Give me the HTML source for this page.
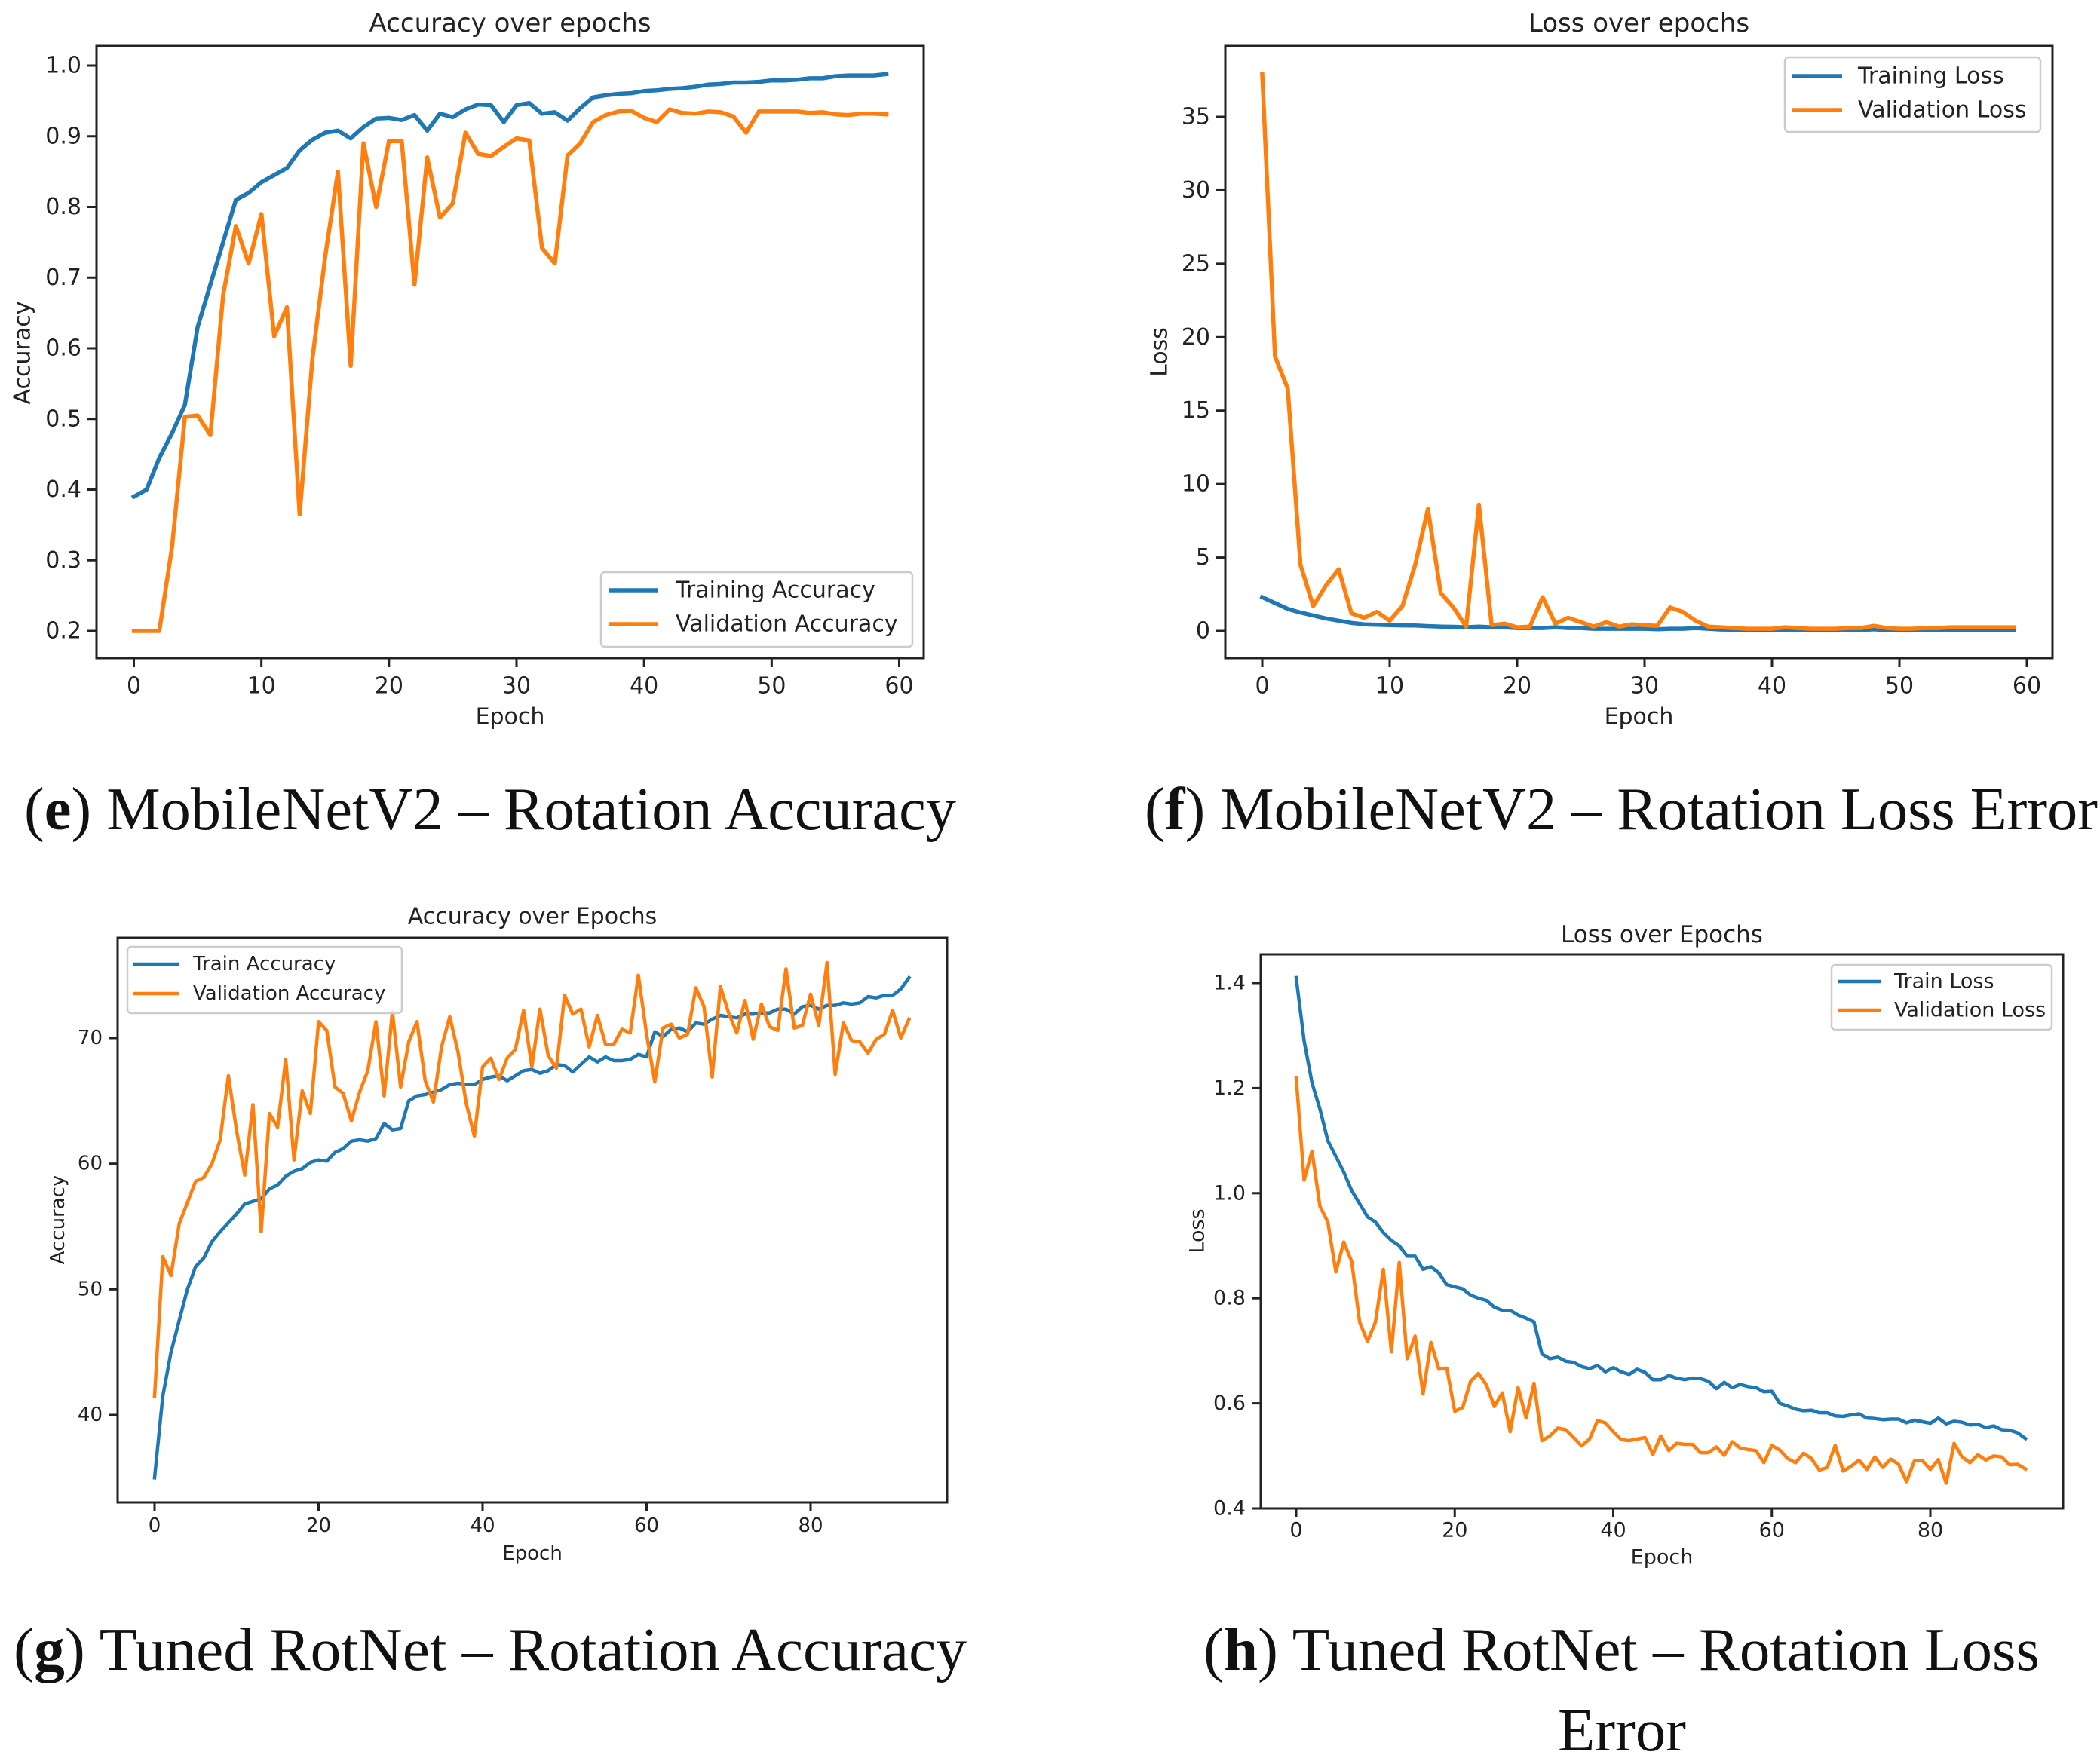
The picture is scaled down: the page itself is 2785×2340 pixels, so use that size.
<!DOCTYPE html>
<html><head><meta charset="utf-8"><style>
html,body{margin:0;padding:0;background:#fff;}
svg{display:block;}
text{font-family:"DejaVu Sans","Liberation Sans",sans-serif;fill:#222;}
.cap{font-family:"Liberation Serif",serif;fill:#111;}
</style></head><body>
<svg id="fig" width="2785" height="2340" viewBox="0 0 2785 2340" xmlns="http://www.w3.org/2000/svg">
<text class="cap" x="32" y="1100" font-size="80" textLength="1236" lengthAdjust="spacingAndGlyphs">(<tspan font-weight="bold">e</tspan>) MobileNetV2 – Rotation Accuracy</text>
<text class="cap" x="1518" y="1100" font-size="80" textLength="1264" lengthAdjust="spacingAndGlyphs">(<tspan font-weight="bold">f</tspan>) MobileNetV2 – Rotation Loss Error</text>
<text class="cap" x="18" y="2215" font-size="80" textLength="1264" lengthAdjust="spacingAndGlyphs">(<tspan font-weight="bold">g</tspan>) Tuned RotNet – Rotation Accuracy</text>
<text class="cap" x="1596" y="2215" font-size="80" textLength="1109" lengthAdjust="spacingAndGlyphs">(<tspan font-weight="bold">h</tspan>) Tuned RotNet – Rotation Loss</text>
<text class="cap" x="2066" y="2322" font-size="80" textLength="170" lengthAdjust="spacingAndGlyphs">Error</text>
</svg>
<script>
// ---- Panel e: MobileNetV2 accuracy ----
const eTrain=[.39,.40,.445,.48,.52,.63,.69,.75,.81,.82,.835,.845,.855,.88,.895,.905,.908,.897,.913,.925,.926,.923,.93,.908,.932,.927,.938,.945,.944,.92,.944,.947,.932,.934,.922,.94,.955,.958,.96,.961,.964,.965,.967,.968,.97,.973,.974,.976,.976,.977,.979,.979,.98,.982,.982,.985,.986,.986,.986,.988];
const eVal=[.2,.2,.2,.32,.503,.505,.477,.675,.773,.72,.79,.617,.658,.365,.585,.73,.85,.575,.89,.8,.893,.893,.69,.87,.785,.805,.905,.875,.872,.885,.897,.894,.742,.72,.873,.89,.92,.93,.935,.936,.926,.92,.938,.933,.932,.935,.934,.928,.905,.935,.935,.935,.935,.933,.934,.931,.93,.932,.932,.931];
const eXTicks=[0,10,20,30,40,50,60];
const eYTicks=[0.2,0.3,0.4,0.5,0.6,0.7,0.8,0.9,1.0];
const eYLabels=["0.2","0.3","0.4","0.5","0.6","0.7","0.8","0.9","1.0"];
// ---- Panel f: MobileNetV2 loss ----
const fTrain=[2.3,1.9,1.5,1.25,1.05,0.85,0.7,0.55,0.45,0.42,0.4,0.38,0.37,0.33,0.3,0.28,0.25,0.3,0.25,0.25,0.2,0.2,0.2,0.25,0.2,0.2,0.15,0.15,0.15,0.15,0.15,0.12,0.15,0.15,0.2,0.15,0.1,0.08,0.08,0.08,0.08,0.08,0.08,0.08,0.06,0.05,0.05,0.05,0.12,0.05,0.05,0.05,0.05,0.05,0.05,0.05,0.05,0.05,0.05,0.05];
const fVal=[37.9,18.7,16.5,4.5,1.7,3.1,4.2,1.2,0.9,1.3,0.7,1.7,4.5,8.3,2.6,1.6,0.3,8.6,0.4,0.5,0.25,0.3,2.3,0.5,0.9,0.6,0.3,0.6,0.3,0.45,0.4,0.35,1.6,1.3,0.7,0.3,0.25,0.2,0.15,0.15,0.15,0.25,0.2,0.15,0.15,0.15,0.2,0.2,0.35,0.2,0.15,0.15,0.2,0.2,0.25,0.25,0.25,0.25,0.25,0.25];
const fXTicks=[0,10,20,30,40,50,60];
const fYTicks=[0,5,10,15,20,25,30,35];
const fYLabels=["0","5","10","15","20","25","30","35"];
// ---- Panel g: RotNet accuracy ----
const gTrain=[35,41.5,45,47.5,50,51.8,52.5,53.8,54.6,55.3,56,56.8,57,57.2,58,58.3,59,59.4,59.6,60.1,60.3,60.2,60.9,61.2,61.8,61.9,61.8,62,63.2,62.7,62.8,65,65.4,65.5,65.7,65.9,66.3,66.4,66.3,66.3,66.7,66.9,67,66.6,67,67.4,67.5,67.2,67.4,67.9,67.8,67.3,67.9,68.5,68.1,68.5,68.2,68.2,68.3,68.7,68.5,70.5,70.1,70.7,70.8,70.5,71.2,71.1,71.5,71.8,71.7,71.6,71.9,71.9,72,72,72.3,72.3,71.9,72.5,72.6,72.3,72.6,72.6,72.8,72.7,72.8,73.3,73.2,73.4,73.4,73.9,74.8];
const gVal=[41.5,52.6,51.1,55.2,56.9,58.6,58.9,60,61.9,67,62.6,59.1,64.7,54.6,64,62.9,68.3,60.3,65.8,64,71.3,70.6,66.1,65.6,63.4,65.7,67.4,71.3,65.4,72.1,66.1,69.7,71.3,66.6,64.9,69.3,71.7,68.9,64.8,62.2,67.7,68.4,66.7,68.4,69.1,72.2,67.7,72.3,68.6,67.6,73.4,71.9,72.3,69.3,71.8,69.5,69.5,70.7,70.4,75,70.3,66.5,70.8,71.1,70,70.3,74,72.5,66.9,74.1,72,70.4,73,69.9,72.7,70.9,70.6,75.5,70.8,71,73.5,71,76,67.1,71.2,69.8,69.7,68.8,69.9,70.3,72.2,70,71.5];
const gXTicks=[0,20,40,60,80];
const gYTicks=[40,50,60,70];
const gYLabels=["40","50","60","70"];
// ---- Panel h: RotNet loss ----
const hTrain=[1.41,1.29,1.21,1.16,1.1,1.07,1.04,1.005,0.98,0.955,0.945,0.925,0.91,0.9,0.88,0.88,0.855,0.86,0.848,0.826,0.822,0.818,0.806,0.8,0.796,0.783,0.777,0.777,0.768,0.762,0.755,0.694,0.685,0.688,0.68,0.678,0.67,0.666,0.672,0.66,0.668,0.66,0.655,0.665,0.659,0.645,0.645,0.653,0.648,0.645,0.648,0.647,0.642,0.628,0.64,0.63,0.636,0.632,0.63,0.622,0.623,0.6,0.595,0.589,0.586,0.587,0.582,0.582,0.576,0.575,0.578,0.58,0.572,0.571,0.569,0.57,0.57,0.563,0.568,0.565,0.562,0.572,0.561,0.566,0.564,0.559,0.56,0.554,0.557,0.55,0.549,0.544,0.533];
const hVal=[1.22,1.025,1.08,0.975,0.945,0.85,0.907,0.87,0.755,0.718,0.755,0.855,0.698,0.868,0.685,0.728,0.618,0.716,0.665,0.667,0.585,0.592,0.642,0.657,0.635,0.594,0.62,0.546,0.63,0.572,0.638,0.529,0.538,0.553,0.55,0.535,0.519,0.532,0.567,0.563,0.546,0.531,0.529,0.532,0.535,0.503,0.538,0.51,0.524,0.522,0.522,0.506,0.506,0.517,0.501,0.527,0.515,0.512,0.51,0.487,0.52,0.511,0.495,0.487,0.505,0.495,0.473,0.478,0.52,0.471,0.48,0.492,0.474,0.498,0.478,0.494,0.484,0.451,0.491,0.491,0.474,0.493,0.448,0.524,0.498,0.487,0.502,0.492,0.5,0.498,0.483,0.484,0.475];
const hXTicks=[0,20,40,60,80];
const hYTicks=[0.4,0.6,0.8,1.0,1.2,1.4];
const hYLabels=["0.4","0.6","0.8","1.0","1.2","1.4"];

const NS="http://www.w3.org/2000/svg";
const svg=document.getElementById('fig');
function mk(tag,attrs,parent){const e=document.createElementNS(NS,tag);for(const k in attrs)e.setAttribute(k,attrs[k]);(parent||svg).appendChild(e);return e;}

function panel(cfg){
  const g=mk('g',{});
  
  
  const sx=v=>cfg.x0px+(v-cfg.x0v)*(cfg.x1px-cfg.x0px)/(cfg.x1v-cfg.x0v);
  const sy=v=>cfg.y0px+(v-cfg.y0v)*(cfg.y1px-cfg.y0px)/(cfg.y1v-cfg.y0v);
  const b=cfg.box;
  const lw=cfg.lw;
  const series=[[cfg.train,'#1f77b4','train-line'],[cfg.val,'#ff7f0e','validation-line']];
  series.forEach(s=>{
    const pts=s[0].map((v,i)=>sx(i).toFixed(1)+','+sy(v).toFixed(1)).join(' ');
    const p=mk('polyline',{points:pts,fill:'none',stroke:s[1],'stroke-width':lw,'stroke-linejoin':'round','stroke-linecap':'square'},g);
    
    
  });
  const fr=mk('rect',{x:b[0],y:b[1],width:b[2]-b[0],height:b[3]-b[1],fill:'none',stroke:'#222','stroke-width':3},g);
  
  
  cfg.xticks.forEach(t=>{
    const x=sx(t);
    mk('line',{x1:x,x2:x,y1:b[3],y2:b[3]+12,stroke:'#222','stroke-width':3},g);
    const tx=mk('text',{x:x,y:cfg.xtlY,'font-size':cfg.fs,'text-anchor':'middle','dominant-baseline':'central'},g);
    tx.textContent=String(t);
    
    
  });
  cfg.yticks.forEach((t,i)=>{
    const y=sy(t);
    mk('line',{x1:b[0]-12,x2:b[0],y1:y,y2:y,stroke:'#222','stroke-width':3},g);
    const tx=mk('text',{x:b[0]-20,y:y,'font-size':cfg.fs,'text-anchor':'end','dominant-baseline':'central'},g);
    tx.textContent=cfg.ylabels[i];
    
    
  });
  const t=mk('text',{x:(b[0]+b[2])/2,y:cfg.titleY,'font-size':cfg.tfs,'text-anchor':'middle','dominant-baseline':'central'},g);
  t.textContent=cfg.title;
  
  
  const xl=mk('text',{x:(b[0]+b[2])/2,y:cfg.xlabY,'font-size':cfg.fs,'text-anchor':'middle','dominant-baseline':'central'},g);
  xl.textContent='Epoch';
  
  
  const yl=mk('text',{x:0,y:0,'font-size':cfg.fs,'text-anchor':'middle','dominant-baseline':'central',transform:'translate('+cfg.ylab[0]+','+cfg.ylab[1]+') rotate(-90)'},g);
  yl.textContent=cfg.ytitle;
  
  
  const L=cfg.leg;
  const lg=mk('g',{},g);
  
  
  mk('rect',{x:L.x,y:L.y,width:L.w,height:L.h,rx:5,fill:'#fff','fill-opacity':0.8,stroke:'#ccc','stroke-width':2.5},lg);
  [[L.names[0],'#1f77b4',L.r1],[L.names[1],'#ff7f0e',L.r2]].forEach(e=>{
    const eg=mk('g',{},lg);
    
    
    mk('line',{x1:L.lx1,x2:L.lx2,y1:e[2],y2:e[2],stroke:e[1],'stroke-width':lw},eg);
    const tx=mk('text',{x:L.tx,y:e[2],'font-size':cfg.fs,'dominant-baseline':'central'},eg);
    tx.textContent=e[0];
  });
}

panel({name:'mobilenet-accuracy',train:eTrain,val:eVal,xticks:eXTicks,yticks:eYTicks,ylabels:eYLabels,
  box:[128,61,1225,873],x0v:0,x0px:177.5,x1v:60,x1px:1192.5,y0v:0.2,y0px:837,y1v:1.0,y1px:87,
  lw:5.5,fs:30,tfs:34,title:'Accuracy over epochs',titleY:31,xtlY:910,xlabY:951,ytitle:'Accuracy',ylab:[30,468],
  leg:{x:797,y:759,w:413,h:99,r1:783,r2:828,lx1:808,lx2:873,tx:896,names:['Training Accuracy','Validation Accuracy']}});
panel({name:'mobilenet-loss',train:fTrain,val:fVal,xticks:fXTicks,yticks:fYTicks,ylabels:fYLabels,
  box:[1625,61,2722,873],x0v:0,x0px:1674,x1v:60,x1px:2688,y0v:0,y0px:837,y1v:35,y1px:155,
  lw:5.5,fs:30,tfs:34,title:'Loss over epochs',titleY:31,xtlY:910,xlabY:951,ytitle:'Loss',ylab:[1538,467],
  leg:{x:2367,y:76,w:339,h:99,r1:101,r2:146,lx1:2377,lx2:2443,tx:2464,names:['Training Loss','Validation Loss']}});
panel({name:'rotnet-accuracy',train:gTrain,val:gVal,xticks:gXTicks,yticks:gYTicks,ylabels:gYLabels,
  box:[156,1244,1256,1993],x0v:0,x0px:205,x1v:80,x1px:1075,y0v:40,y0px:1877,y1v:70,y1px:1377,
  lw:4.5,fs:26,tfs:30,title:'Accuracy over Epochs',titleY:1216,xtlY:2024,xlabY:2061,ytitle:'Accuracy',ylab:[77,1618],
  leg:{x:169,y:1256,w:364,h:88,r1:1279,r2:1318,lx1:177,lx2:237,tx:256,names:['Train Accuracy','Validation Accuracy']}});
panel({name:'rotnet-loss',train:hTrain,val:hVal,xticks:hXTicks,yticks:hYTicks,ylabels:hYLabels,
  box:[1672,1266,2736,2001],x0v:0,x0px:1719,x1v:80,x1px:2560,y0v:0.4,y0px:2001,y1v:1.4,y1px:1304,
  lw:4.5,fs:27,tfs:31,title:'Loss over Epochs',titleY:1240,xtlY:2030,xlabY:2066,ytitle:'Loss',ylab:[1588,1633],
  leg:{x:2429,y:1280,w:292,h:86,r1:1302,r2:1340,lx1:2438,lx2:2495,tx:2512,names:['Train Loss','Validation Loss']}});
</script>
</body></html>
